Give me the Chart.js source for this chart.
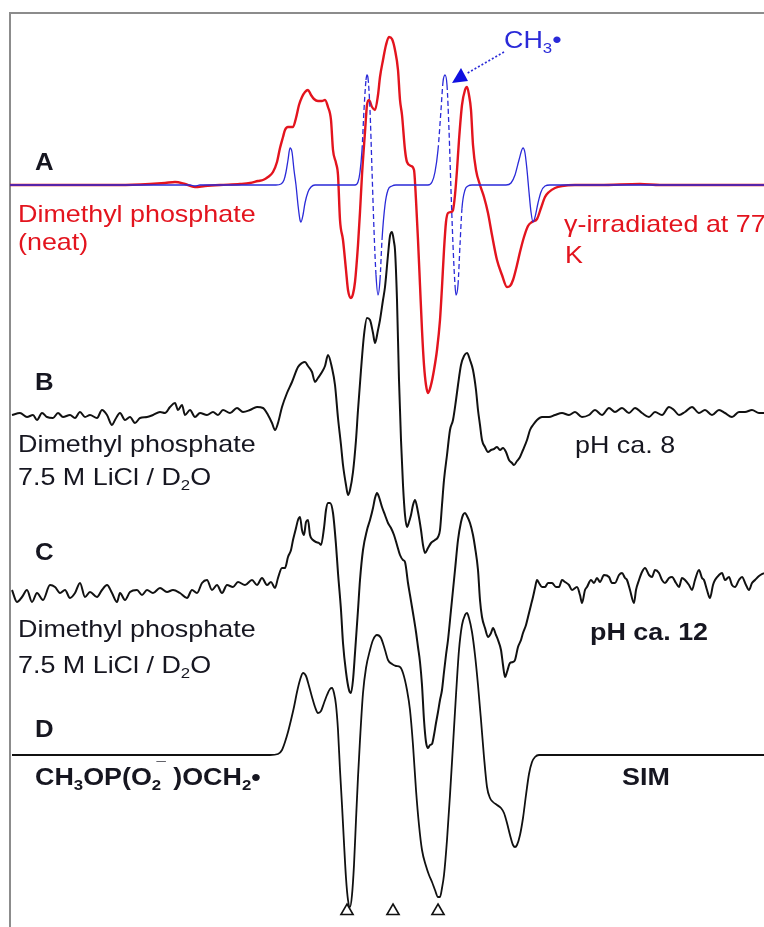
<!DOCTYPE html>
<html>
<head>
<meta charset="utf-8">
<script src="https://cdn.jsdelivr.net/npm/chart.js@4/dist/chart.umd.min.js"></script>
<style>
  html, body { margin: 0; padding: 0; background: #fff; }
  #wrap { width: 764px; height: 927px; position: relative; }
</style>
</head>
<body>
<div id="wrap"><canvas id="c" width="764" height="927"></canvas></div>
<script>
// ---------- DATA (field in arbitrary units, signal relative to each trace baseline) ----------
const aRedField = [10,60,120,150,165,175,185,195,205,220,240,250,258,263,268,273,277,280,283,285,288,293,296,299,302,305,308,311,314,318,322,325,328,331,333,336,338,340,343,346,348,351,353,355,358,360,362,365,367,369,372,375,378,380,383,386,389,392,395,398,400,402,405,407,411,414,416,418,420,422,424,426,428,431,434,437,440,442,444,446,448,451,453,455,457,459,462,465,467,469,471,473,476,480,484,488,492,497,502,507,510,513,517,520,524,528,532,537,541,545,549,555,562,575,600,640,660,700,740,764];
const aRedSignal = [0,0,0,1,2,3,1,-2,-1,0,1,2,4,5,8,13,23,37,48,55,58,58,67,80,88,93,95,90,86,84,84,85,78,65,35,22,10,-35,-55,-85,-105,-113,-109,-97,-60,-27,10,53,80,85,78,75,90,108,125,140,148,146,135,115,85,70,35,23,19,15,-15,-55,-100,-145,-180,-200,-208,-200,-185,-165,-135,-102,-65,-37,-28,-27,-25,-10,15,45,80,95,98,90,75,40,15,0,-12,-28,-50,-75,-90,-102,-101,-95,-80,-67,-52,-41,-37,-34,-23,-12,-7,-3,-1,0,0,1,0,0,0,0];

const aBlueField = [10,190,195,200,276,281,284,286,288,290,292,294,296,298,300,301,303,305,308,311,315,355,358,360,362,364,366,367,368,370,372,374,376,378,380,382,385,388,392,396,428,432,435,438,441,443,445,447,449,451,453,455,456,458,460,462,465,468,472,506,511,515,519,523,525,527,529,531,533,535,538,541,545,550,764];
const aBlueSignal = [0,0,-1,0,0,1,5,13,25,37,33,15,0,-20,-35,-37,-30,-18,-7,-2,0,0,3,13,35,75,105,110,107,75,15,-45,-90,-110,-95,-55,-20,-5,-1,0,0,3,13,35,75,103,110,100,55,-5,-60,-100,-110,-100,-60,-23,-5,-1,0,0,2,10,25,37,32,15,-7,-27,-37,-32,-18,-7,-1,0,0];

const bField = [12,20,27,33,37,42,47,53,58,63,70,75,80,85,90,97,102,107,112,115,120,125,130,135,140,147,153,160,165,170,175,178,182,185,190,195,200,207,213,218,223,230,237,243,250,257,263,268,272,275,278,282,287,292,298,302,305,308,312,315,318,322,325,328,332,335,338,341,343,346,348,350,353,356,358,361,364,367,370,373,375,378,380,383,385,388,390,392,394,395,397,399,401,403,405,407,409,411,413,415,418,421,423,425,428,431,435,438,440,442,444,447,450,453,456,458,461,464,467,470,473,476,478,480,482,485,488,491,494,497,500,503,506,509,512,514,517,520,523,527,530,533,537,542,549,555,562,569,575,582,589,595,602,609,615,622,629,635,642,649,655,662,669,674,679,685,692,699,705,712,719,725,732,739,745,752,759,764];
const bSignal = [0,2,-2,0,-5,2,-2,-3,2,-2,0,-3,3,-2,0,-3,5,0,-10,-5,2,-5,-2,-8,-3,-2,0,3,2,8,12,5,10,0,5,-2,2,0,3,0,5,2,7,3,5,8,7,0,-8,-15,-8,8,22,33,48,52,53,49,43,33,37,43,49,60,47,30,-3,-30,-50,-70,-80,-75,-57,-25,5,45,80,97,95,82,72,85,95,115,128,160,179,183,173,165,115,35,-25,-70,-100,-112,-107,-100,-90,-85,-97,-115,-130,-138,-133,-128,-125,-122,-115,-90,-65,-40,-15,-5,15,30,50,59,62,55,45,25,5,-10,-25,-32,-37,-35,-34,-32,-35,-33,-37,-45,-48,-50,-46,-42,-35,-25,-15,-10,-5,-2,-2,0,2,0,3,-2,0,5,0,7,3,7,2,7,2,-2,3,0,8,5,0,3,8,2,5,0,5,2,-2,3,3,5,2,2];

const cField = [12,17,22,27,32,37,43,50,55,60,65,70,75,80,85,90,97,102,107,112,117,120,125,130,137,142,147,153,160,167,173,180,187,192,197,202,207,212,217,222,227,233,238,245,252,257,262,267,271,275,278,282,285,288,291,293,296,298,300,302,304,306,308,310,313,316,319,321,324,326,328,330,333,336,338,341,343,346,349,351,353,355,358,360,363,367,370,373,375,377,379,382,385,388,391,394,397,400,403,405,408,410,413,416,418,420,422,424,426,428,430,432,434,436,438,440,442,444,446,448,451,453,455,458,461,463,465,467,470,473,475,478,480,482,485,488,491,493,496,498,501,503,505,507,510,513,515,518,521,523,526,528,531,533,535,537,539,542,545,548,552,556,559,562,565,569,572,577,580,582,585,587,591,594,597,600,604,609,612,615,619,622,625,627,630,634,636,639,642,645,649,652,655,659,662,665,669,672,676,679,682,685,689,692,695,699,702,704,707,710,713,715,719,722,725,729,732,735,739,742,746,749,752,755,759,764];
const cSignal = [0,-12,-7,0,-12,-3,-10,5,3,-3,0,-8,-3,7,-7,-2,-7,0,5,-3,-12,-3,-10,-2,0,-5,0,-3,2,-2,0,-3,-8,0,-3,7,10,0,5,-3,5,3,8,5,10,5,12,5,8,2,12,22,22,33,40,50,62,70,73,60,55,68,70,55,50,48,47,45,62,80,87,87,77,45,17,-20,-53,-82,-100,-103,-90,-63,-20,10,40,60,70,82,92,97,93,83,75,67,62,55,45,35,30,28,7,-5,-23,-42,-57,-72,-95,-130,-152,-158,-155,-154,-145,-133,-122,-110,-100,-82,-65,-50,-20,0,20,50,68,75,77,74,67,55,43,20,-10,-27,-38,-47,-43,-38,-45,-50,-60,-75,-87,-82,-73,-72,-70,-57,-50,-43,-35,-27,-15,-7,2,10,7,3,3,7,7,3,3,10,8,5,0,3,-5,-13,0,3,10,7,12,8,15,13,7,7,15,17,12,10,0,-13,0,10,18,22,15,13,20,17,10,7,12,13,7,3,12,10,5,0,10,20,12,10,0,-8,5,10,15,17,10,13,5,3,10,13,5,0,7,10,14,17];

const dField = [12,240,270,278,282,285,288,291,294,297,300,303,306,309,312,315,318,321,324,327,330,332,334,336,338,340,342,344,346,348,350,352,354,356,358,360,363,366,370,373,377,381,385,388,392,396,400,403,407,410,413,416,419,422,426,429,432,435,438,440,442,444,447,450,453,456,459,462,465,467,469,472,475,478,481,484,487,490,493,497,501,504,507,510,513,515,517,520,523,526,529,532,535,539,600,764];
const dSignal = [0,0,0,1,5,13,23,35,48,63,75,82,79,69,58,48,42,44,52,60,66,67,62,50,25,-15,-50,-88,-123,-145,-152,-140,-110,-65,-22,15,62,87,105,115,120,117,105,95,91,89,88,82,65,45,10,-35,-70,-95,-111,-120,-127,-135,-142,-142,-133,-120,-85,-40,10,60,105,130,140,142,137,123,100,70,35,-2,-32,-43,-47,-50,-53,-58,-68,-80,-90,-92,-90,-80,-63,-40,-19,-7,-2,0,0,0];

const markerField = [347, 393, 438];
const traceNames = ['A', 'B', 'C', 'D'];
const traceOffsets = [742, 512, 337, 172];
const markerLevel = 16;

// ---------- styling ----------
const RED = '#e3141e', BLUE = '#2a2ad8', INK = '#161620';
const TXT_SX = 1.12;

const labels = [
  { runs: [['A','n']], f: 35, v: 757, size: 23, bold: true, color: INK },
  { runs: [['Dimethyl phosphate','n']], f: 18, v: 705, size: 24, color: RED },
  { runs: [['(neat)','n']], f: 18, v: 677, size: 24, color: RED },
  { runs: [['\u03B3-irradiated at 77','n']], f: 564, v: 695, size: 24, color: RED },
  { runs: [['K','n']], f: 565, v: 664, size: 24, color: RED },
  { runs: [['CH','n'],['3','sub'],['\u2022','n']], f: 504, v: 879, size: 24, color: BLUE },
  { runs: [['B','n']], f: 35, v: 537, size: 23, bold: true, color: INK },
  { runs: [['Dimethyl phosphate','n']], f: 18, v: 475, size: 24, color: INK },
  { runs: [['7.5 M LiCl / D','n'],['2','sub'],['O','n']], f: 18, v: 442, size: 24, color: INK },
  { runs: [['pH ca. 8','n']], f: 575, v: 474, size: 24, color: INK },
  { runs: [['C','n']], f: 35, v: 367, size: 23, bold: true, color: INK },
  { runs: [['Dimethyl phosphate','n']], f: 18, v: 290, size: 24, color: INK },
  { runs: [['7.5 M LiCl / D','n'],['2','sub'],['O','n']], f: 18, v: 254, size: 24, color: INK },
  { runs: [['pH ca. 12','n']], f: 590, v: 287, size: 24, bold: true, color: INK },
  { runs: [['D','n']], f: 35, v: 190, size: 23, bold: true, color: INK },
  { runs: [['CH','n'],['3','sub'],['OP(O','n'],['2','sub'],['\u2009\u00AF','sup'],[' )OCH','n'],['2','sub'],['\u2022','n']], f: 35, v: 142, size: 24, bold: true, color: INK },
  { runs: [['SIM','n']], f: 622, v: 142, size: 24, bold: true, color: INK }
];

function pts(field, sig, off) { return field.map((x, i) => ({ x: x, y: sig[i] + off })); }

const steepDash = ctx => {
  const dx = Math.abs(ctx.p1.parsed.x - ctx.p0.parsed.x) || 1e-6;
  const dy = Math.abs(ctx.p1.parsed.y - ctx.p0.parsed.y);
  return dy / dx > 12 ? [5, 3] : undefined;
};

const decor = {
  id: 'decor',
  beforeDatasetsDraw(chart) {
    const { ctx, scales: { x, y } } = chart;
    ctx.save();
    ctx.strokeStyle = '#8c8c8c';
    ctx.lineWidth = 2;
    ctx.beginPath();
    ctx.moveTo(x.getPixelForValue(10), y.getPixelForValue(0));
    ctx.lineTo(x.getPixelForValue(10), y.getPixelForValue(914));
    ctx.lineTo(x.getPixelForValue(764), y.getPixelForValue(914));
    ctx.stroke();
    ctx.restore();
  },
  afterDatasetsDraw(chart) {
    const { ctx, scales: { x, y } } = chart;
    ctx.save();
    // dotted arrow to CH3 line
    ctx.strokeStyle = BLUE;
    ctx.lineWidth = 1.6;
    ctx.setLineDash([2, 2]);
    ctx.beginPath();
    ctx.moveTo(x.getPixelForValue(504), y.getPixelForValue(875));
    ctx.lineTo(x.getPixelForValue(466), y.getPixelForValue(853));
    ctx.stroke();
    ctx.setLineDash([]);
    ctx.fillStyle = '#1010e0';
    ctx.beginPath();
    ctx.moveTo(x.getPixelForValue(461), y.getPixelForValue(859));
    ctx.lineTo(x.getPixelForValue(452), y.getPixelForValue(844));
    ctx.lineTo(x.getPixelForValue(468), y.getPixelForValue(846));
    ctx.closePath();
    ctx.fill();
    // text labels
    ctx.textBaseline = 'alphabetic';
    labels.forEach(l => {
      const px = x.getPixelForValue(l.f), py = y.getPixelForValue(l.v);
      ctx.save();
      ctx.translate(px, py);
      ctx.scale(TXT_SX, 1);
      ctx.fillStyle = l.color;
      let cx = 0;
      const w = l.bold ? 'bold ' : '';
      l.runs.forEach(([t, kind]) => {
        let s = l.size, dy = 0;
        if (kind === 'sub') { s = Math.round(l.size * 0.62); dy = l.size * 0.22; }
        if (kind === 'sup') { s = Math.round(l.size * 0.62); dy = -l.size * 0.55; cx -= l.size * 0.3; }
        ctx.font = w + s + 'px "Liberation Sans", Arial, Helvetica, sans-serif';
        ctx.fillText(t, cx, dy);
        cx += ctx.measureText(t).width;
      });
      ctx.restore();
    });
    ctx.restore();
  }
};

const lineBase = { showLine: true, pointRadius: 0, fill: false, cubicInterpolationMode: 'monotone' };

new Chart(document.getElementById('c'), {
  type: 'scatter',
  data: {
    datasets: [
      Object.assign({}, lineBase, { label: 'CH3 (sim)', data: pts(aBlueField, aBlueSignal, traceOffsets[0]), borderColor: BLUE, borderWidth: 1.3, segment: { borderDash: steepDash } }),
      Object.assign({}, lineBase, { label: traceNames[0], data: pts(aRedField, aRedSignal, traceOffsets[0]), borderColor: RED, borderWidth: 2.4 }),
      Object.assign({}, lineBase, { label: traceNames[1], data: pts(bField, bSignal, traceOffsets[1]), borderColor: '#111', borderWidth: 2 }),
      Object.assign({}, lineBase, { label: traceNames[2], data: pts(cField, cSignal, traceOffsets[2]), borderColor: '#111', borderWidth: 2 }),
      Object.assign({}, lineBase, { label: traceNames[3], data: pts(dField, dSignal, traceOffsets[3]), borderColor: '#111', borderWidth: 1.8 }),
      { label: 'markers', data: markerField.map(f => ({ x: f, y: markerLevel })), showLine: false, pointStyle: 'triangle', pointRadius: 7, pointBackgroundColor: '#fff', pointBorderColor: '#111', pointBorderWidth: 1.6, clip: false }
    ]
  },
  options: {
    responsive: false,
    animation: false,
    devicePixelRatio: 1,
    layout: { padding: 0, autoPadding: false },
    plugins: { legend: { display: false }, tooltip: { enabled: false } },
    scales: {
      x: { type: 'linear', min: 0, max: 764, display: false },
      y: { type: 'linear', min: 0, max: 927, display: false }
    }
  },
  plugins: [decor]
});
</script>
</body>
</html>
